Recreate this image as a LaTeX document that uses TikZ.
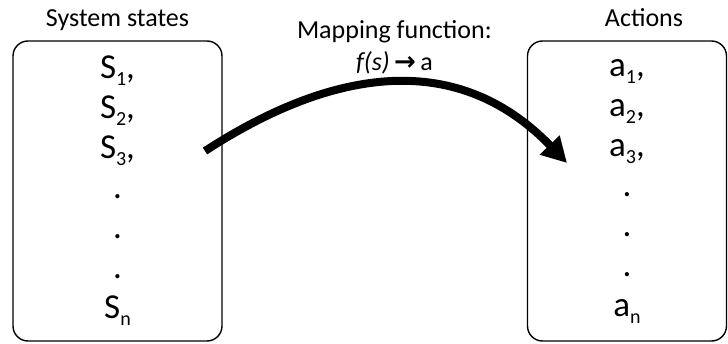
\documentclass[tikz,border=0pt]{standalone}
\usepackage{fontspec}
\setmainfont{Carlito}
\newfontfamily\arrowfont{DejaVu Sans}
\usetikzlibrary{arrows.meta,positioning}
\newcommand\lowidx[1]{\raisebox{-0.2em}{\fontsize{20}{20}\selectfont #1}}
\tikzset{
  listbox/.style={draw, line width=1.4pt, rounded corners=15pt, align=center,
                  minimum height=300pt, inner sep=0pt,
                  font=\fontsize{35}{40}\selectfont},
  heading/.style={font=\fontsize{26}{32}\selectfont, inner sep=0pt,
                  text depth=0pt, align=center},
  mapflow/.style={-{Triangle[length=25pt,width=26pt]}, line width=8pt},
}

\begin{document}
\begin{tikzpicture}[x=1pt, y=1pt]
  \useasboundingbox (0,0) rectangle (728,343);

  \node[listbox, minimum width=209pt] (states) at (117.5,152)
       {S\lowidx{1},\\ S\lowidx{2},\\ S\lowidx{3},\\ .\\ .\\ .\\ S\lowidx{n}};
  \node[listbox, minimum width=199pt] (actions) at (627,152)
       {a\lowidx{1},\\ a\lowidx{2},\\ a\lowidx{3},\\ .\\ .\\ .\\ a\lowidx{n}};

  \node[heading, above=14pt of states.north] (stitle) {System states};
  \node[heading, above=14pt of actions.north, xshift=17pt] (atitle) {Actions};

  \coordinate (src) at (205,192);
  \coordinate (dst) at (567,180);
  \draw[mapflow] (src) to[out=33, in=134, looseness=1.1]
        node[heading, midway, above=9pt] (map)
        {Mapping function:\\ \textit{f(s)}\,{\arrowfont\bfseries →}\,a} (dst);
\end{tikzpicture}
\end{document}
